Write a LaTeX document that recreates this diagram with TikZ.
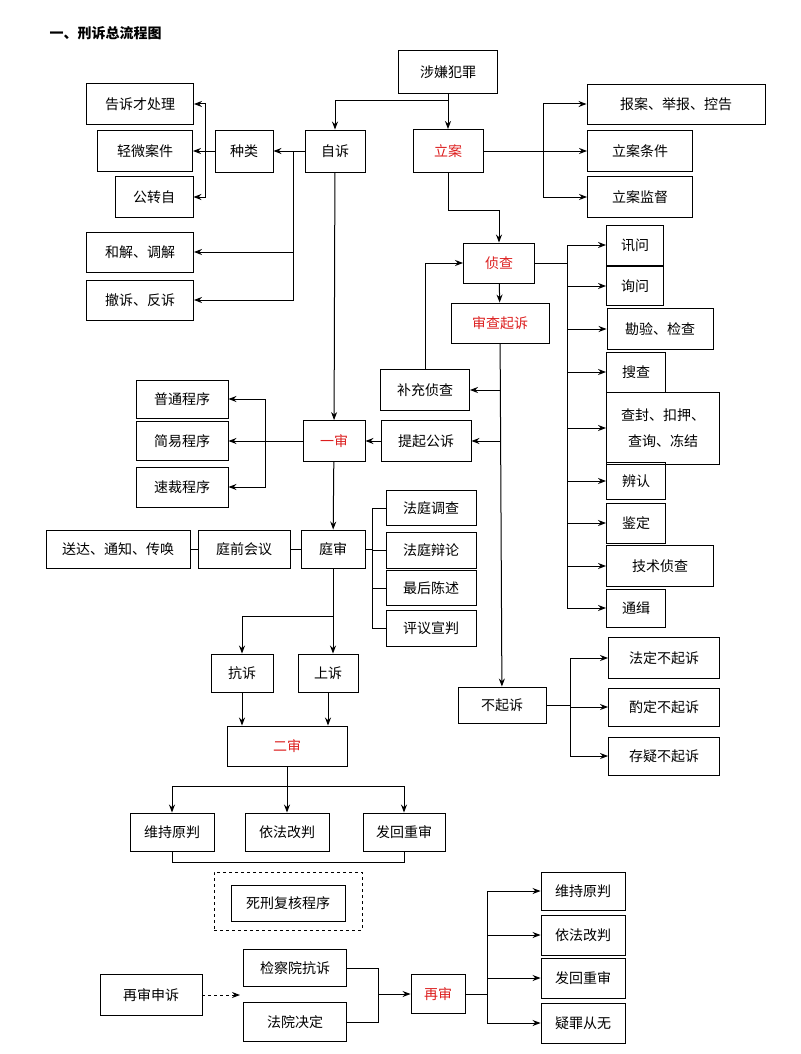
\documentclass[tikz,border=0pt]{standalone}
\usepackage{fontspec}
\newfontfamily\cjk{Noto Sans CJK SC}
\usetikzlibrary{arrows.meta}
\begin{document}
\begin{tikzpicture}[x=1pt,y=-1pt,
  font=\cjk\fontsize{14}{17}\selectfont,
  box/.style={draw,line width=0.9pt,inner sep=0pt,align=center},
  red/.style={text={rgb,255:red,220;green,30;blue,30}},
  ln/.style={line width=1pt},
  arr/.style={ln,-{Stealth[length=8pt,width=6pt]}}]
\useasboundingbox (0,0) rectangle (800,1054);
\node[anchor=west,font=\cjk\bfseries\fontsize{14}{17}\selectfont] (title) at (46,33) {一、刑诉总流程图};
\def\B#1#2#3#4#5#6{\node[box,minimum width=#4,minimum height=#5,#6] (#1) at (#2,#3) {};}
% nodes
\node[box,minimum width=99,minimum height=43] (sx) at (448,72) {涉嫌犯罪};
\node[box,minimum width=60,minimum height=42] (zs) at (335,151) {自诉};
\node[box,red,minimum width=70,minimum height=43] (la) at (448,151) {立案};
\node[box,minimum width=58,minimum height=42] (zl) at (244,151) {种类};
\node[box,minimum width=107,minimum height=41] (gs) at (140,104) {告诉才处理};
\node[box,minimum width=95,minimum height=41] (qw) at (145,151) {轻微案件};
\node[box,minimum width=78,minimum height=41] (gz) at (154,197) {公转自};
\node[box,minimum width=107,minimum height=40] (hj) at (140,252) {和解、调解};
\node[box,minimum width=107,minimum height=40] (cs) at (140,300) {撤诉、反诉};
\node[box,minimum width=178,minimum height=40] (ba) at (676,104) {报案、举报、控告};
\node[box,minimum width=105,minimum height=41] (lt) at (640,151) {立案条件};
\node[box,minimum width=105,minimum height=41] (lj) at (640,197) {立案监督};
\node[box,red,minimum width=71,minimum height=40] (zc) at (499,263) {侦查};
\node[box,red,minimum width=98,minimum height=40] (sc) at (500,323) {审查起诉};
\node[box,minimum width=57,minimum height=40] (xw) at (635,245) {讯问};
\node[box,minimum width=57,minimum height=39] (xw2) at (635,286) {询问};
\node[box,minimum width=106,minimum height=41] (ky) at (660,329) {勘验、检查};
\node[box,minimum width=59,minimum height=40] (soc) at (636,372) {搜查};
\node[box,minimum width=113,minimum height=72,align=center,font=\cjk\fontsize{14}{26}\selectfont] (cf) at (663,428) {查封、扣押、\\查询、冻结};
\node[box,minimum width=59,minimum height=37] (br) at (636,481) {辨认};
\node[box,minimum width=59,minimum height=40] (jd) at (636,523) {鉴定};
\node[box,minimum width=107,minimum height=41] (js) at (660,566) {技术侦查};
\node[box,minimum width=59,minimum height=38] (tj) at (636,608) {通缉};
\node[box,minimum width=89,minimum height=41] (bc) at (425,390) {补充侦查};
\node[box,minimum width=90,minimum height=41] (tq) at (426,441) {提起公诉};
\node[box,red,minimum width=62,minimum height=41] (ys) at (334,441) {一审};
\node[box,minimum width=92,minimum height=38] (pt) at (182,399) {普通程序};
\node[box,minimum width=92,minimum height=39] (jy) at (182,441) {简易程序};
\node[box,minimum width=92,minimum height=40] (sca) at (182,487) {速裁程序};
\node[box,minimum width=64,minimum height=38] (ts) at (333,549) {庭审};
\node[box,minimum width=92,minimum height=38] (tqh) at (244,549) {庭前会议};
\node[box,minimum width=144,minimum height=38] (sd) at (118,549) {送达、通知、传唤};
\node[box,minimum width=90,minimum height=35] (f1) at (431,508) {法庭调查};
\node[box,minimum width=90,minimum height=36] (f2) at (431,550) {法庭辩论};
\node[box,minimum width=90,minimum height=35] (f3) at (431,588) {最后陈述};
\node[box,minimum width=90,minimum height=36] (f4) at (431,628) {评议宣判};
\node[box,minimum width=62,minimum height=38] (ks) at (242,673) {抗诉};
\node[box,minimum width=60,minimum height=38] (ss) at (328,673) {上诉};
\node[box,red,minimum width=120,minimum height=40] (es) at (287,746) {二审};
\node[box,minimum width=84,minimum height=38] (w1) at (172,832) {维持原判};
\node[box,minimum width=84,minimum height=38] (y1) at (287,832) {依法改判};
\node[box,minimum width=82,minimum height=38] (f1b) at (404,832) {发回重审};
\node[box,minimum width=114,minimum height=36] (sx2) at (288,903) {死刑复核程序};
\node[draw,dashed,line width=0.9pt,minimum width=148,minimum height=58] (dbox) at (288,901) {};
\node[box,minimum width=88,minimum height=36] (bq) at (502,705) {不起诉};
\node[box,minimum width=111,minimum height=41] (fd) at (664,658) {法定不起诉};
\node[box,minimum width=111,minimum height=38] (zd) at (664,707) {酌定不起诉};
\node[box,minimum width=111,minimum height=38] (cy) at (664,756) {存疑不起诉};
\node[box,minimum width=102,minimum height=41] (zss) at (151,995) {再审申诉};
\node[box,minimum width=103,minimum height=37] (jc) at (295,968) {检察院抗诉};
\node[box,minimum width=103,minimum height=39] (fy) at (295,1022) {法院决定};
\node[box,red,minimum width=54,minimum height=39] (zsh) at (438,994) {再审};
\node[box,minimum width=84,minimum height=38] (r1) at (583,891) {维持原判};
\node[box,minimum width=84,minimum height=40] (r2) at (583,935) {依法改判};
\node[box,minimum width=84,minimum height=40] (r3) at (583,978) {发回重审};
\node[box,minimum width=84,minimum height=40] (r4) at (583,1023) {疑罪从无};
% coordinates
\coordinate (j0) at (448,101);
\coordinate (bz) at (205,151);
\coordinate (bz2) at (293,151);
\coordinate (bl) at (543,151);
\coordinate (jl) at (448,210);
\coordinate (bzc) at (567,263);
\coordinate (bys) at (265,441);
\coordinate (bts) at (372,549);
\coordinate (jt) at (333,616);
\coordinate (je) at (287,786);
\coordinate (bb) at (570,705);
\coordinate (ddst) at (240,995);
\coordinate (bj) at (378,994);
\coordinate (br2) at (487,994);
\coordinate (bk) at (172,862);
\coordinate (bk2) at (404,862);
% connectors
\draw[arr] (sx) -- (la);
\draw[arr] (j0) -| (zs);
\draw[arr] (zs) -- (zl);
\draw[arr] (zl) -- (qw);
\draw[arr] (bz) |- (gs);
\draw[arr] (bz) |- (gz);
\draw[arr] (bz2) |- (hj);
\draw[arr] (bz2) |- (cs);
\draw[arr] (zs) -- (ys);
\draw[arr] (la) -- (lt);
\draw[arr] (bl) |- (ba);
\draw[arr] (bl) |- (lj);
\draw[ln] (la) -- (jl);
\draw[arr] (jl) -| (zc);
\draw[arr] (zc) -- (sc);
\draw[ln] (zc) -- (bzc);
\foreach \n in {xw,xw2,ky,soc,cf,br,jd,js,tj} \draw[arr] (bzc) |- (\n.west);
\draw[arr] (sc) -- (bq);
\draw[arr] (sc.south |- bc) -- (bc);
\draw[arr] (sc.south |- tq) -- (tq);
\draw[arr] (bc.north) |- (zc);
\draw[arr] (tq) -- (ys);
\draw[arr] (ys) -- (jy);
\draw[arr] (bys) |- (pt);
\draw[arr] (bys) |- (sca);
\draw[arr] (ys) -- (ts);
\draw[ln] (ts) -- (tqh);
\draw[ln] (tqh) -- (sd);
\draw[ln] (ts) -- (bts);
\foreach \n in {f1,f2,f3,f4} \draw[ln] (bts) |- (\n.west);
\draw[arr] (ts) -- (ts.south |- ss.north);
\draw[arr] (jt) -| (ks);
\draw[arr] (ks) -- (ks |- es.north);
\draw[arr] (ss) -- (ss |- es.north);
\draw[ln] (es) -- (je);
\draw[arr] (je) -| (w1);
\draw[arr] (je) -- (y1);
\draw[arr] (je) -| (f1b);
\draw[ln] (w1) -- (bk) -- (bk2) -- (f1b);
\draw[ln] (bq) -- (bb);
\foreach \n in {fd,zd,cy} \draw[arr] (bb) |- (\n.west);
\draw[arr,dashed] (zss) -- (ddst);
\draw[ln] (jc) -| (bj);
\draw[ln] (fy) -| (bj);
\draw[arr] (bj) -- (zsh);
\draw[ln] (zsh) -- (br2);
\foreach \n in {r1,r2,r3,r4} \draw[arr] (br2) |- (\n.west);
\end{tikzpicture}
\end{document}
